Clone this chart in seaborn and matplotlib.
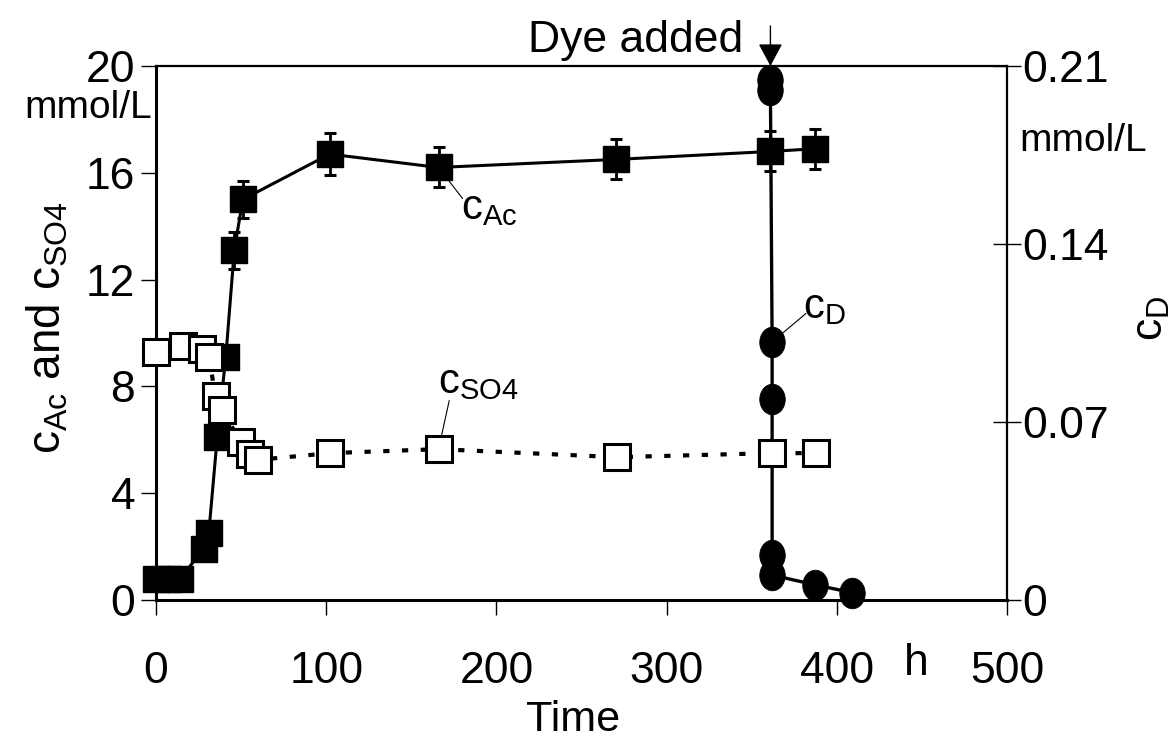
import numpy as np
import pandas as pd
import matplotlib
matplotlib.use("Agg")
import matplotlib.pyplot as plt
from matplotlib.path import Path
from matplotlib.transforms import Affine2D
import seaborn as sns

# Acetate concentration (mmol/L) with standard deviation
t_ac = [0, 7, 14, 28, 31, 36, 41, 46, 51, 102, 166, 270, 361, 387]
c_ac = [0.8, 0.8, 0.8, 1.9, 2.5, 6.1, 9.1, 13.1, 15.0, 16.7, 16.2, 16.5, 16.8, 16.9]
err_ac = [0.2, 0.2, 0.2, 0.2, 0.2, 0.3, 0.4, 0.7, 0.7, 0.8, 0.75, 0.75, 0.75, 0.75]

# Sulfate concentration (mmol/L)
t_so4 = [0, 16, 27, 31, 35, 39, 50, 55, 60, 102, 166, 271, 362, 388]
c_so4 = [9.3, 9.5, 9.4, 9.1, 7.65, 7.1, 5.9, 5.45, 5.25, 5.5, 5.65, 5.35, 5.5, 5.5]

# Dye concentration (mmol/L), dye added at t = 361 h
t_d = [360.5, 361, 362, 362, 362, 362, 387, 409]
c_d = [0.2045, 0.2005, 0.1015, 0.079, 0.0178, 0.0098, 0.006, 0.0029]

t_dye = 361

x_ticks = [0, 100, 200, 300, 400, 500]
y_ticks = [0, 4, 8, 12, 16, 20]
y2_ticks = [0, 0.07, 0.14, 0.21]
y2_labels = ["0", "0.07", "0.14", "0.21"]

sns.set_theme(style="ticks")
plt.rcParams["font.family"] = ["Liberation Sans", "DejaVu Sans"]
plt.rcParams["mathtext.fontset"] = "custom"
plt.rcParams["mathtext.rm"] = "Liberation Sans"
plt.rcParams["text.color"] = "black"
plt.rcParams["axes.labelcolor"] = "black"
plt.rcParams["xtick.color"] = "black"
plt.rcParams["ytick.color"] = "black"

W, H = 1174, 738
fig = plt.figure(figsize=(W / 100, H / 100), dpi=100)
fig.patch.set_facecolor("white")
ax = fig.add_axes([156 / W, 1 - 600 / H, 851 / W, 534 / H])
ax2 = ax.twinx()
ax.set_zorder(ax2.get_zorder() + 1)
ax.patch.set_visible(False)
ax2.patch.set_visible(True)
ax2.patch.set_facecolor("white")

# Dye: tall ellipse markers on the right axis
ellipse = Path.unit_circle().transformed(Affine2D().scale(1.0, 1.2))
sns.lineplot(x=t_d, y=c_d, ax=ax2, color="black", lw=2.4, sort=False,
             estimator=None, marker=ellipse, markersize=22,
             markerfacecolor="black", markeredgecolor="black",
             markeredgewidth=0.6, clip_on=False)

# Acetate: filled squares, solid line, error bars
ax.errorbar(t_ac, c_ac, yerr=err_ac, fmt="none", ecolor="black",
            elinewidth=2.0, capsize=4.3, capthick=2.2, zorder=1.8,
            clip_on=False)
sns.lineplot(x=t_ac, y=c_ac, ax=ax, color="black", lw=2.2, sort=False,
             estimator=None, marker="s", markersize=19,
             markerfacecolor="black", markeredgecolor="black",
             markeredgewidth=1.0, clip_on=False, zorder=2)

# Sulfate: open squares, dotted line
sns.lineplot(x=t_so4, y=c_so4, ax=ax, color="black", lw=3.0, sort=False,
             estimator=None, linestyle=(0, (1.5, 3.0)), marker="s",
             markersize=18.3, markerfacecolor="white",
             markeredgecolor="black", markeredgewidth=2.2,
             clip_on=False, zorder=3)

ax.set_xlim(0, 500)
ax.set_ylim(0, 20)
ax2.set_ylim(0, 0.21)
ax.set_xticks(x_ticks)
ax.set_xticklabels([str(v) for v in x_ticks])
ax.set_yticks(y_ticks)
ax.set_yticklabels([str(v) for v in y_ticks])
ax2.set_yticks(y2_ticks)
ax2.set_yticklabels(y2_labels)

ax.tick_params(axis="both", labelsize=32, colors="black", width=1.0)
ax.tick_params(axis="y", direction="out", length=11, pad=4)
ax.tick_params(axis="x", direction="out", length=11, pad=26)
ax2.tick_params(axis="y", direction="inout", length=20, width=1.0,
                labelsize=32, pad=1, colors="black")
ax.set_xlabel("")
ax.set_ylabel("")
ax2.set_ylabel("")

for a in (ax, ax2):
    for s in a.spines.values():
        s.set_color("black")
ax.spines["left"].set_linewidth(2.2)
ax.spines["bottom"].set_linewidth(2.2)
ax.spines["top"].set_linewidth(1.6)
ax.spines["right"].set_visible(False)
ax2.spines["right"].set_linewidth(1.6)
ax2.spines["left"].set_visible(False)
ax2.spines["bottom"].set_visible(False)
ax2.spines["top"].set_visible(False)

# Axis titles and units
ax.text(-0.1270, 0.51, r"$\mathregular{c_{Ac}}$ and $\mathregular{c_{SO4}}$",
        rotation=90, ha="center", va="center", fontsize=33,
        transform=ax.transAxes)
ax.text(1.170, 0.528, r"$\mathregular{c_{D}}$", rotation=90, ha="center",
        va="center", fontsize=32, transform=ax.transAxes)
ax.text(-0.080, 0.922, "mmol/L", ha="center", va="center", fontsize=28,
        transform=ax.transAxes)
ax.text(1.089, 0.8596, "mmol/L", ha="center", va="center", fontsize=28,
        transform=ax.transAxes)
ax.text(0.893, -0.118, "h", ha="center", va="center", fontsize=32,
        transform=ax.transAxes)
ax.text(0.49, -0.224, "Time", ha="center", va="center", fontsize=31,
        transform=ax.transAxes)

# Dye addition marker
ax.text(0.6898, 1.026, "Dye added", ha="right", va="baseline", fontsize=32,
        transform=ax.transAxes)
ax.annotate("", xy=(t_dye, 1.0), xycoords=("data", "axes fraction"),
            xytext=(t_dye, 1.075), textcoords=("data", "axes fraction"),
            arrowprops=dict(arrowstyle="-|>,head_length=14,head_width=7.5",
                            mutation_scale=1, lw=1.0, color="black",
                            shrinkA=0, shrinkB=0),
            annotation_clip=False)

# Series labels with leader lines
lead = dict(arrowstyle="-", lw=0.8, color="black", shrinkA=0, shrinkB=0)
ax.annotate("", xy=(t_ac[10], c_ac[10]), xytext=(180.1, 15.04),
            arrowprops=lead, zorder=1)
ax.text(179.2, 14.27, r"$\mathregular{c_{Ac}}$", ha="left", va="baseline",
        fontsize=30)
ax.annotate("", xy=(t_so4[10], c_so4[10]), xytext=(172.3, 7.47),
            arrowprops=lead, zorder=1)
ax.text(165.7, 7.75, r"$\mathregular{c_{SO4}}$", ha="left", va="baseline",
        fontsize=30)
ax2.annotate("", xy=(t_d[2], c_d[2]), xytext=(381.9, 0.1127),
             arrowprops=lead, zorder=1)
ax2.text(380.1, 0.1109, r"$\mathregular{c_{D}}$", ha="left", va="baseline",
         fontsize=30)

fig.savefig("out.png", dpi=100)
